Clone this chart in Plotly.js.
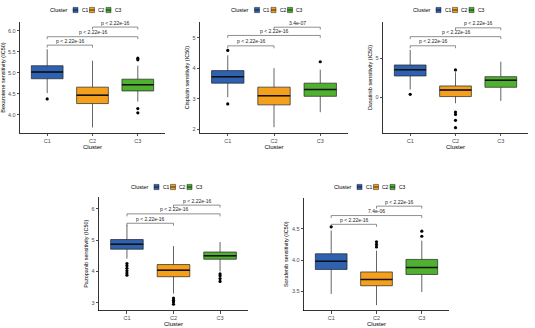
<!DOCTYPE html>
<html><head><meta charset="utf-8">
<script src="https://cdn.plot.ly/plotly-3.0.1.min.js"></script>
<style>html,body{margin:0;padding:0;background:#fff}#chart{width:535px;height:328px}</style>
</head><body><div id="chart"></div>
<script>
// ---- data ----
const categories = ['C1', 'C2', 'C3'];
const drugTitles = ['Bexarotene sensitivity (IC50)', 'Cisplatin sensitivity (IC50)', 'Dasatinib sensitivity (IC50)', 'Pazopanib sensitivity (IC50)', 'Sorafenib sensitivity (IC50)'];
const clusterColors = ['#2E62B0', '#F5A01C', '#4FB12F'];

const bexQ1 = [4.86, 4.27, 4.57], bexMed = [5.02, 4.47, 4.72], bexQ3 = [5.17, 4.66, 4.85], bexLo = [4.52, 3.70, 4.32], bexHi = [5.56, 5.29, 5.17];
const bexOut = [[4.38], [], [5.31, 5.35, 4.15, 4.05]];
const cisQ1 = [3.51, 2.80, 3.08], cisMed = [3.72, 3.10, 3.30], cisQ3 = [3.92, 3.38, 3.51], cisLo = [3.05, 2.07, 2.56], cisHi = [4.42, 4.00, 3.95];
const cisOut = [[4.58, 2.83], [], [4.21]];
const dasQ1 = [2.73, 0.09, 1.28], dasMed = [3.54, 0.93, 2.18], dasQ3 = [4.14, 1.45, 2.64], dasLo = [1.0, -0.77, -0.47], dasHi = [6.06, 3.2, 4.56];
const dasOut = [[0.38], [3.5, -1.9, -2.2, -2.95, -3.9], []];
const pazQ1 = [4.71, 3.83, 4.39], pazMed = [4.87, 4.04, 4.50], pazQ3 = [5.02, 4.22, 4.62], pazLo = [4.41, 3.29, 4.0], pazHi = [5.49, 4.81, 4.94];
const pazOut = [[4.25, 4.18, 4.1, 4.02, 3.95, 3.88], [3.15, 3.08, 3.02, 2.95], [3.92, 3.86, 3.77, 3.68]];
const sorQ1 = [3.85, 3.59, 3.77], sorMed = [3.98, 3.69, 3.88], sorQ3 = [4.10, 3.81, 4.01], sorLo = [3.46, 3.28, 3.49], sorHi = [4.47, 4.15, 4.31];
const sorOut = [[4.53], [4.21, 4.25, 4.29], [4.38, 4.46]];

const pairs = [[1, 2], [1, 3], [2, 3]];
const bexBr = [5.66, 5.86, 6.09], cisBr = [4.73, 5.07, 5.34], dasBr = [6.6, 7.77, 8.9], pazBr = [5.54, 5.84, 6.12], sorBr = [4.57, 4.71, 4.86];
const bexP = ['p < 2.22e-16', 'p < 2.22e-16', 'p < 2.22e-16'];
const cisP = ['p < 2.22e-16', 'p < 2.22e-16', '3.4e-07'];
const dasP = ['p < 2.22e-16', 'p < 2.22e-16', 'p < 2.22e-16'];
const pazP = ['p < 2.22e-16', 'p < 2.22e-16', 'p < 2.22e-16'];
const sorP = ['p < 2.22e-16', '7.4e-06', 'p < 2.22e-16'];

const panels = [
  {q1: bexQ1, med: bexMed, q3: bexQ3, lo: bexLo, hi: bexHi, out: bexOut, br: bexBr, p: bexP},
  {q1: cisQ1, med: cisMed, q3: cisQ3, lo: cisLo, hi: cisHi, out: cisOut, br: cisBr, p: cisP},
  {q1: dasQ1, med: dasMed, q3: dasQ3, lo: dasLo, hi: dasHi, out: dasOut, br: dasBr, p: dasP},
  {q1: pazQ1, med: pazMed, q3: pazQ3, lo: pazLo, hi: pazHi, out: pazOut, br: pazBr, p: pazP},
  {q1: sorQ1, med: sorMed, q3: sorQ3, lo: sorLo, hi: sorHi, out: sorOut, br: sorBr, p: sorP}
];

// ---- layout geometry (pixels) ----
const W = 535, H = 328;
const px = x => x / W, py = y => 1 - y / H;
const geo = [
  {x: [20, 165], y: [22, 133], yr: [3.57, 6.21], dt: 0.5, fmt: '.1f', leg: 10},
  {x: [200, 348], y: [22, 133], yr: [1.88, 5.51], dt: 1, fmt: 'd', leg: 10},
  {x: [383, 528], y: [22, 133], yr: [-4.58, 9.65], dt: 5, fmt: 'd', leg: 10},
  {x: [99, 248], y: [197, 310.5], yr: [2.75, 6.38], dt: 1, fmt: 'd', leg: 187},
  {x: [304, 449], y: [198, 310.5], yr: [3.195, 4.99], dt: 0.5, fmt: '.1f', leg: 187}
];

const traces = [], shapes = [], annotations = [];
const layout = {
  width: W, height: H, margin: {l: 0, r: 0, t: 0, b: 0},
  paper_bgcolor: '#fff', plot_bgcolor: '#fff', showlegend: false,
  font: {family: 'Liberation Sans, Arial, sans-serif', color: '#000'},
  shapes: shapes, annotations: annotations
};

panels.forEach((d, k) => {
  const g = geo[k];
  const sfx = k === 0 ? '' : String(k + 1);
  const xa = 'x' + sfx, ya = 'y' + sfx;
  const axStyle = {
    showline: true, linecolor: '#000', linewidth: 0.8, showgrid: false, zeroline: false,
    ticks: 'outside', ticklen: 2.5, tickwidth: 0.7, tickcolor: '#000',
    tickfont: {size: 5.5, color: '#4d4d4d'}, automargin: false, fixedrange: true
  };
  layout['xaxis' + sfx] = Object.assign({}, axStyle, {
    domain: [px(g.x[0]), px(g.x[1])], anchor: ya, range: [0.4, 3.6],
    tickmode: 'array', tickvals: [1, 2, 3], ticktext: categories,
    title: {text: 'Cluster', font: {size: 6, color: '#000'}, standoff: 1}
  });
  layout['yaxis' + sfx] = Object.assign({}, axStyle, {
    domain: [py(g.y[1]), py(g.y[0])], anchor: xa, range: g.yr,
    dtick: g.dt, tick0: 0, tickformat: g.fmt,
    title: {text: drugTitles[k], font: {size: 5.5, color: '#000'}, standoff: 2}
  });

  categories.forEach((c, i) => {
    const xc = i + 1;
    traces.push({
      type: 'box', x: [xc], q1: [d.q1[i]], median: [d.med[i]], q3: [d.q3[i]],
      lowerfence: [d.lo[i]], upperfence: [d.hi[i]], width: 0.7, whiskerwidth: 0,
      fillcolor: clusterColors[i], line: {color: '#222', width: 0.7},
      boxpoints: false, xaxis: xa, yaxis: ya, hoverinfo: 'skip', showlegend: false
    });
    traces.push({
      type: 'scatter', mode: 'lines', x: [xc - 0.35, xc + 0.35], y: [d.med[i], d.med[i]],
      line: {color: '#111', width: 1.5}, xaxis: xa, yaxis: ya, hoverinfo: 'skip', showlegend: false
    });
    if (d.out[i].length) {
      traces.push({
        type: 'scatter', mode: 'markers', x: d.out[i].map(() => xc), y: d.out[i],
        marker: {color: '#000', size: 3.2}, xaxis: xa, yaxis: ya, hoverinfo: 'skip', showlegend: false
      });
    }
  });

  // significance brackets
  const tip = 0.022 * (g.yr[1] - g.yr[0]);
  pairs.forEach((pr, j) => {
    const y = d.br[j];
    shapes.push({
      type: 'path', xref: xa, yref: ya,
      path: `M ${pr[0]},${y - tip} L ${pr[0]},${y} L ${pr[1]},${y} L ${pr[1]},${y - tip}`,
      line: {color: '#444', width: 0.6}
    });
    annotations.push({
      xref: xa, yref: ya, x: (pr[0] + pr[1]) / 2, y: y, yanchor: 'bottom', yshift: -0.5,
      text: d.p[j], showarrow: false, font: {size: 5, color: '#222'}
    });
  });

  // legend drawn above each panel
  const cx = (g.x[0] + g.x[1]) / 2, cy = g.leg;
  annotations.push({
    xref: 'paper', yref: 'paper', x: px(cx - 23), y: py(cy), xanchor: 'right', yanchor: 'middle',
    text: 'Cluster', showarrow: false, font: {size: 5.5, color: '#000'}
  });
  const keyX = [-19.5, -3, 13.5];
  categories.forEach((c, i) => {
    const x0 = cx + keyX[i];
    shapes.push({type: 'rect', xref: 'paper', yref: 'paper', x0: px(x0), x1: px(x0 + 5), y0: py(cy + 2.6), y1: py(cy - 2.6),
      fillcolor: clusterColors[i], line: {color: '#222', width: 0.5}});
    shapes.push({type: 'line', xref: 'paper', yref: 'paper', x0: px(x0), x1: px(x0 + 5), y0: py(cy), y1: py(cy),
      line: {color: '#111', width: 0.8}});
    annotations.push({
      xref: 'paper', yref: 'paper', x: px(x0 + 6.5), y: py(cy), xanchor: 'left', yanchor: 'middle',
      text: c, showarrow: false, font: {size: 5, color: '#000'}
    });
  });
});

Plotly.newPlot('chart', traces, layout, {staticPlot: true, displayModeBar: false});
</script></body></html>
